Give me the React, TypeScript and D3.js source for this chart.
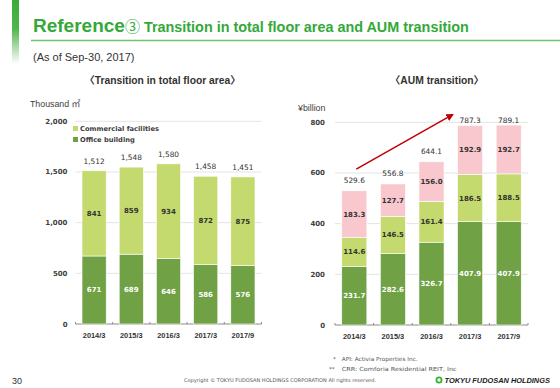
import React from "react";
import * as d3 from "d3";

const categories = ["2014/3", "2015/3", "2016/3", "2017/3", "2017/9"];

// Left chart: total floor area (thousand m2)
const officeArea = [671, 689, 646, 586, 576];
const commercialArea = [841, 859, 934, 872, 875];
const totalArea = [1512, 1548, 1580, 1458, 1451];
const areaTicks = [0, 500, 1000, 1500, 2000];

// Right chart: AUM (¥billion)
const aumBase = [231.7, 282.6, 326.7, 407.9, 407.9];
const aumMid = [114.6, 146.5, 161.4, 186.5, 188.5];
const aumTop = [183.3, 127.7, 156.0, 192.9, 192.7];
const aumTotal = [529.6, 556.8, 644.1, 787.3, 789.1];
const aumTicks = [0, 200, 400, 600, 800];

const legendLabels = ["Commercial facilities", "Office building"];
const arrowFrom = { cat: "2014/3", value: 615 };
const arrowTo = { cat: "2017/3", value: 830 };

const C_DARK = "#70a245";
const C_LIGHT = "#c4da6e";
const C_PINK = "#f8c8ce";
const C_TITLE = "#35a83a";
const CHART_FONT = "DejaVu Sans, Verdana, sans-serif";
const SANS = "Liberation Sans, Arial, 'Noto Sans CJK JP', sans-serif";

const fmt = d3.format(",");

export default function App() {
  // Left scales
  const yL = d3.scaleLinear().domain([0, 2000]).range([324, 121.3]);
  const xL = d3
    .scaleBand<string>()
    .domain(categories)
    .range([75.5, 261.5])
    .paddingInner(0.35)
    .paddingOuter(0.175);
  // Right scales
  const yR = d3.scaleLinear().domain([0, 800]).range([325, 122.3]);
  const xR = d3
    .scaleBand<string>()
    .domain(categories)
    .range([335, 528])
    .paddingInner(0.35)
    .paddingOuter(0.175);

  const leftStack = categories.map((c, i) => ({
    cat: c,
    segs: [
      { v0: 0, v1: officeArea[i], val: officeArea[i], color: C_DARK, text: "#fff" },
      {
        v0: officeArea[i],
        v1: officeArea[i] + commercialArea[i],
        val: commercialArea[i],
        color: C_LIGHT,
        text: "#333",
      },
    ],
    total: totalArea[i],
  }));

  const rightStack = categories.map((c, i) => ({
    cat: c,
    segs: [
      { v0: 0, v1: aumBase[i], val: aumBase[i], color: C_DARK, text: "#fff" },
      { v0: aumBase[i], v1: aumBase[i] + aumMid[i], val: aumMid[i], color: C_LIGHT, text: "#333" },
      {
        v0: aumBase[i] + aumMid[i],
        v1: aumBase[i] + aumMid[i] + aumTop[i],
        val: aumTop[i],
        color: C_PINK,
        text: "#333",
      },
    ],
    total: aumTotal[i],
  }));

  const ax1 = xR(arrowFrom.cat)! + xR.bandwidth() / 2 + 2;
  const ay1 = yR(arrowFrom.value);
  const ax2 = xR(arrowTo.cat)! - 5;
  const ay2 = yR(arrowTo.value);

  const renderAxis = (
    x: d3.ScaleBand<string>,
    y: d3.ScaleLinear<number, number>,
    ticks: number[],
    labelX: number,
    tickFmt: (v: number) => string
  ) => {
    const [r0, r1] = x.range();
    const y0 = y(0);
    const bounds = categories.map((c) => x(c)! - (x.step() * x.paddingInner()) / 2);
    return (
      <g>
        {ticks
          .filter((t) => t > 0)
          .map((t) => (
            <line key={"g" + t} x1={r0} x2={r1} y1={y(t)} y2={y(t)} stroke="#e4e4e4" strokeWidth={1} />
          ))}
        {ticks.map((t) => (
          <text
            key={"t" + t}
            x={labelX}
            y={y(t) + 2.5}
            textAnchor="end"
            fontFamily={CHART_FONT}
            fontWeight="bold"
            fontSize={7}
            fill="#404040"
          >
            {tickFmt(t)}
          </text>
        ))}
        <line x1={r0} x2={r1} y1={y0} y2={y0} stroke="#8a8a8a" strokeWidth={1} />
        {[r0, ...bounds.slice(1), r1].map((bx, i) => (
          <line key={"k" + i} x1={bx} x2={bx} y1={y0 - 2} y2={y0} stroke="#8a8a8a" strokeWidth={1} />
        ))}
        {categories.map((c) => (
          <text
            key={"x" + c}
            x={x(c)! + x.bandwidth() / 2}
            y={y0 + 13.5}
            textAnchor="middle"
            fontFamily={SANS}
            fontWeight="bold"
            fontSize={7.4}
            fill="#333"
          >
            {c}
          </text>
        ))}
      </g>
    );
  };

  return (
    <div style={{ position: "absolute", left: 0, top: 0, width: 560, height: 388, background: "#fff" }}>
      <svg width={560} height={388} viewBox="0 0 560 388" style={{ display: "block" }}>
        <defs>
          <linearGradient id="stripe" x1="0" y1="0" x2="0" y2="1">
            <stop offset="0" stopColor="#3aab3a" />
            <stop offset="0.45" stopColor="#4fb64c" />
            <stop offset="1" stopColor="#ffffff" />
          </linearGradient>
          <marker id="arrowHead" viewBox="0 0 10 10" refX="8" refY="5" markerWidth="5" markerHeight="5" orient="auto">
            <path d="M0,0 L10,5 L0,10 z" fill="#c00000" />
          </marker>
        </defs>
        <rect x={0} y={0} width={560} height={388} fill="#fff" />
        {/* Header */}
        <rect x={12} y={0} width={7} height={64} fill="url(#stripe)" />
        <text x={33} y={32} fill={C_TITLE} fontFamily={SANS} fontWeight="bold">
          <tspan fontSize={19}>Reference</tspan>
          <tspan fontSize={15} fontWeight="normal" fontFamily="'Noto Sans CJK JP', sans-serif">
            ③
          </tspan>
          <tspan fontSize={14.4}> Transition in total floor area and AUM transition</tspan>
        </text>
        <line x1={31} x2={560} y1={40.5} y2={40.5} stroke="#70c46c" strokeWidth={1.5} />
        <text x={33} y={61} fontFamily={SANS} fontSize={11} fill="#333">
          (As of Sep-30, 2017)
        </text>
        <text x={162.5} y={84} textAnchor="middle" fontFamily={SANS} fontWeight="bold" fontSize={10.3} fill="#333">
          〈Transition in total floor area〉
        </text>
        <text x={437} y={84} textAnchor="middle" fontFamily={SANS} fontWeight="bold" fontSize={10.3} fill="#333">
          〈AUM transition〉
        </text>
        <text x={30} y={107} fontFamily={SANS} fontSize={8.8} fill="#404040">
          Thousand ㎡
        </text>
        <text x={298} y={111} fontFamily={SANS} fontSize={8.8} fill="#404040">
          ¥billion
        </text>

        {/* Left chart */}
        {renderAxis(xL, yL, areaTicks, 67.5, (v) => fmt(v))}
        {leftStack.map((d) => (
          <g key={"l" + d.cat}>
            {d.segs.map((s, j) => (
              <g key={j}>
                <rect
                  x={xL(d.cat)!}
                  y={yL(s.v1)}
                  width={xL.bandwidth()}
                  height={yL(s.v0) - yL(s.v1)}
                  fill={s.color}
                  stroke="#fff"
                  strokeWidth={0.6}
                />
                <text
                  x={xL(d.cat)! + xL.bandwidth() / 2}
                  y={(yL(s.v0) + yL(s.v1)) / 2 + 2.5}
                  textAnchor="middle"
                  fontFamily={CHART_FONT}
                  fontWeight="bold"
                  fontSize={7}
                  fill={s.text}
                >
                  {fmt(s.val)}
                </text>
              </g>
            ))}
            <text
              x={xL(d.cat)! + xL.bandwidth() / 2}
              y={yL(d.total) - 9.5 + 2.5}
              textAnchor="middle"
              fontFamily={CHART_FONT}
              fontSize={7.4}
              fill="#333"
            >
              {fmt(d.total)}
            </text>
          </g>
        ))}
        {/* Legend */}
        {legendLabels.map((l, i) => (
          <g key={l}>
            <rect x={73} y={126 + i * 11} width={5} height={5} fill={i === 0 ? C_LIGHT : C_DARK} />
            <text x={80} y={131 + i * 11} fontFamily={CHART_FONT} fontWeight="bold" fontSize={6.7} fill="#404040">
              {l}
            </text>
          </g>
        ))}

        {/* Right chart */}
        {renderAxis(xR, yR, aumTicks, 325, (v) => String(v))}
        {rightStack.map((d) => (
          <g key={"r" + d.cat}>
            {d.segs.map((s, j) => (
              <g key={j}>
                <rect
                  x={xR(d.cat)!}
                  y={yR(s.v1)}
                  width={xR.bandwidth()}
                  height={yR(s.v0) - yR(s.v1)}
                  fill={s.color}
                  stroke="#fff"
                  strokeWidth={0.6}
                />
                <text
                  x={xR(d.cat)! + xR.bandwidth() / 2}
                  y={(yR(s.v0) + yR(s.v1)) / 2 + 2.5}
                  textAnchor="middle"
                  fontFamily={CHART_FONT}
                  fontWeight="bold"
                  fontSize={7}
                  fill={s.text}
                >
                  {s.val.toFixed(1)}
                </text>
              </g>
            ))}
            <text
              x={xR(d.cat)! + xR.bandwidth() / 2}
              y={Math.max(yR(d.total) - 10, yR(800) - 1.6) + 2.5}
              textAnchor="middle"
              fontFamily={CHART_FONT}
              fontSize={7.4}
              fill="#333"
            >
              {d.total.toFixed(1)}
            </text>
          </g>
        ))}
        <line
          x1={ax1}
          y1={ay1}
          x2={ax2}
          y2={ay2}
          stroke="#c00000"
          strokeWidth={1.5}
          markerEnd="url(#arrowHead)"
        />

        {/* Footnotes */}
        <text x={333} y={361} fontFamily={CHART_FONT} fontSize={5.6} fill="#555">
          *
        </text>
        <text x={341.7} y={361} fontFamily={CHART_FONT} fontSize={5.6} fill="#555" textLength={76} lengthAdjust="spacingAndGlyphs">
          API: Activia Properties Inc.
        </text>
        <text x={329} y={371} fontFamily={CHART_FONT} fontSize={5.6} fill="#555">
          **
        </text>
        <text x={341.7} y={371} fontFamily={CHART_FONT} fontSize={5.6} fill="#555" textLength={115} lengthAdjust="spacingAndGlyphs">
          CRR: Comforia Residential REIT, Inc
        </text>

        {/* Footer */}
        <text x={12} y={384} fontFamily={SANS} fontSize={9} fill="#333">
          30
        </text>
        <text x={184} y={382} fontFamily={CHART_FONT} fontSize={5} fill="#555" textLength={192} lengthAdjust="spacingAndGlyphs">
          Copyright © TOKYU FUDOSAN HOLDINGS CORPORATION All rights reserved.
        </text>
        <circle cx={439} cy={380} r={2.6} fill="none" stroke="#3cb034" strokeWidth={1.8} />
        <text
          x={444.5}
          y={383}
          fontFamily={SANS}
          fontWeight="bold"
          fontStyle="italic"
          fontSize={7.4}
          fill="#1a1a1a"
        >
          TOKYU FUDOSAN HOLDINGS
        </text>
      </svg>
    </div>
  );
}
